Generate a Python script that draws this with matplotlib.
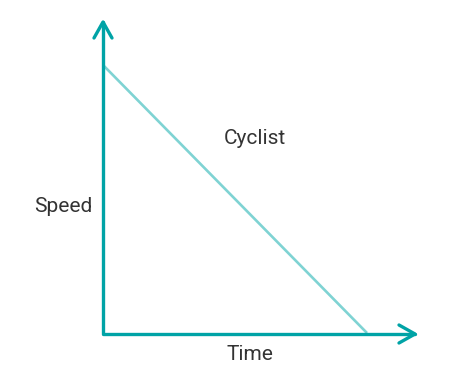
import matplotlib.pyplot as plt
from matplotlib.lines import Line2D

# cyclist slowing down to a stop
time = [0, 1]
speed = [1, 0]
series_label = "Cyclist"
x_label = "Time"
y_label = "Speed"

axis_color = "#00a3a6"
line_color = "#7fd3d3"
text_color = "#333333"

fig = plt.figure(figsize=(4.6, 3.92), dpi=100)
ax = fig.add_axes([0, 0, 1, 1])
ax.axis("off")
# map data 0..1 onto the drawing area (pixels)
sx, sy = 264, 268
ax.set_xlim(-103 / sx, (460 - 103) / sx)
ax.set_ylim(-59 / sy, (392 - 59) / sy)

ax.plot(time, speed, color=line_color, lw=1.9, solid_capstyle="butt")

# axes drawn as arrows in pixel coordinates
H = 392
def px(x, y):
    return x, H - y

kw = dict(color=axis_color, lw=2.4, solid_capstyle="round", solid_joinstyle="round")
for xs, ys in [
    ((103, 103, 415), (22, 334, 334)),
    ((94, 103, 112), (38, 22, 38)),
    ((399, 415, 399), (325, 334, 343)),
]:
    pts = [px(a, b) for a, b in zip(xs, ys)]
    fig.add_artist(Line2D([p[0] for p in pts], [p[1] for p in pts], transform=None, **kw))

font = dict(family=["Roboto", "DejaVu Sans"], fontsize=15, color=text_color)
fig.text(63 / 460, 1 - 207 / H, y_label, ha="center", va="center", **font)
fig.text(250 / 460, 1 - 355 / H, x_label, ha="center", va="center", **font)
fig.text(255 / 460, 1 - 138 / H, series_label, ha="center", va="center", **font)

fig.savefig("out.png", dpi=100)
